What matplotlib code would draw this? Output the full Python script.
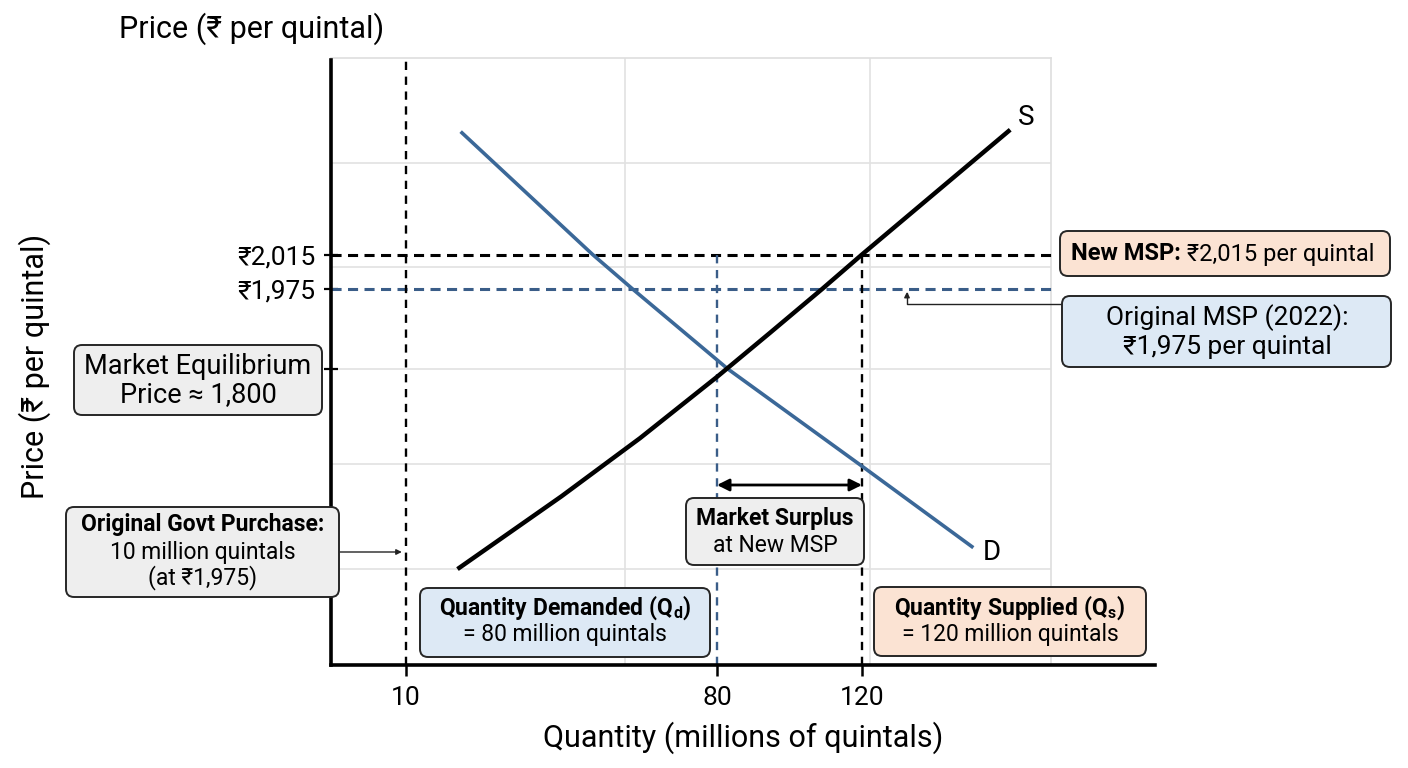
import numpy as np
import matplotlib
matplotlib.use("Agg")
import matplotlib.pyplot as plt
from matplotlib.patches import FancyBboxPatch

plt.rcParams['font.family'] = ['Roboto', 'DejaVu Sans']
plt.rcParams['mathtext.fontset'] = 'custom'
plt.rcParams['mathtext.rm'] = 'Roboto'
plt.rcParams['mathtext.it'] = 'Roboto:italic'
plt.rcParams['mathtext.bf'] = 'Roboto:bold'

# key values (millions of quintals, rupees per quintal)
Q_GOVT = 10
Q_DEMANDED = 80
Q_SUPPLIED = 120
P_EQ = 1800
P_OLD = 1975
P_NEW = 2015

# demand and supply curves
Q_DEM = [22.6, 52, 61, 83, 120, 150]
P_DEM = [2162, 2015, 1975, 1800, 1603, 1440]
Q_SUP = [22, 45, 62.7, 80, 94.6, 109, 120, 160]
P_SUP = [1397, 1542, 1660, 1784, 1879, 1975, 2015, 2164]

X_TICKS = [Q_GOVT, Q_DEMANDED, Q_SUPPLIED]
X_LABELS = ['10', '80', '120']
Y_TICKS = [P_EQ, P_OLD, P_NEW]
Y_LABELS = ['', '₹1,975', '₹2,015']

# the sketch is not drawn to a linear scale, so use piecewise axes
Q_AXIS = [0, 10, 80, 120, 200]
Q_POS = [0, 75, 386, 531, 824]
P_AXIS = [1200, 1800, 1975, 2015, 2250]
P_POS = [0, 296, 376, 410.5, 605]

BLUE = '#3b6898'
BLUE_DASH = '#3a5d88'
PEACH = '#fbe3d3'
LIGHTBLUE = '#dde9f5'
GREY = '#eeeeee'

W, H, DPI = 1408, 768, 100


def pw(v, xs, ys):
    v = np.asarray(v, dtype=float)
    s0 = (ys[1] - ys[0]) / (xs[1] - xs[0])
    s1 = (ys[-1] - ys[-2]) / (xs[-1] - xs[-2])
    mid = np.interp(v, xs, ys)
    return np.where(v < xs[0], ys[0] + (v - xs[0]) * s0,
                    np.where(v > xs[-1], ys[-1] + (v - xs[-1]) * s1, mid))


def fx(x):
    return x / W


def fy(y):
    return 1 - y / H


fig = plt.figure(figsize=(W / DPI, H / DPI), dpi=DPI)

# light grid frame behind the plot
bg = fig.add_axes([fx(331), fy(665), 720 / W, 607 / H], zorder=0)
bg.set_xlim(0, 1)
bg.set_ylim(0, 1)
bg.set_xticks([0.408, 0.749])
bg.set_yticks([0.158, 0.331, 0.488, 0.656, 0.827])
bg.tick_params(length=0, labelbottom=False, labelleft=False)
bg.grid(True, color='#e2e2e2', lw=1.2)
for side in ['left', 'bottom']:
    bg.spines[side].set_visible(False)
for side in ['top', 'right']:
    bg.spines[side].set_color('#dedede')
    bg.spines[side].set_linewidth(1.2)

ax = fig.add_axes([fx(331), fy(665), (1155 - 331) / W, (665 - 60) / H], zorder=1)
ax.patch.set_alpha(0)
ax.set_xscale('function', functions=(lambda v: pw(v, Q_AXIS, Q_POS),
                                     lambda v: pw(v, Q_POS, Q_AXIS)))
ax.set_yscale('function', functions=(lambda v: pw(v, P_AXIS, P_POS),
                                     lambda v: pw(v, P_POS, P_AXIS)))

# price floors
ax.axhline(P_NEW, xmax=720 / 824, color='black', lw=2.2, ls=(0, (3.3, 2.1)), zorder=2)
ax.axhline(P_OLD, xmax=720 / 824, color=BLUE_DASH, lw=2.2, ls=(0, (3.3, 2.1)), zorder=2)
ax.axvline(Q_GOVT, color='black', lw=1.7, ls=(0, (3.5, 2.8)), zorder=2)
ax.plot([Q_DEMANDED, Q_DEMANDED], [P_AXIS[0], P_NEW], color=BLUE_DASH, lw=1.7,
        ls=(0, (3.5, 2.8)), zorder=2)
ax.plot([Q_SUPPLIED, Q_SUPPLIED], [P_AXIS[0], P_NEW], color='black', lw=1.7,
        ls=(0, (3.5, 2.8)), zorder=2)

# curves
ax.plot(Q_DEM, P_DEM, color=BLUE, lw=2.6, zorder=3)
ax.plot(Q_SUP, P_SUP, color='black', lw=3.2, zorder=4)
ax.annotate('S', xy=(Q_SUP[-1], P_SUP[-1]), xytext=(13, 10), textcoords='offset points',
            fontsize=20, ha='center', va='center')
ax.annotate('D', xy=(Q_DEM[-1], P_DEM[-1]), xytext=(14, -4), textcoords='offset points',
            fontsize=20, ha='center', va='center')

ax.set_xlim(Q_AXIS[0], Q_AXIS[-1])
ax.set_ylim(P_AXIS[0], P_AXIS[-1])

ax.set_xticks(X_TICKS)
ax.set_xticklabels(X_LABELS)
ax.set_yticks(Y_TICKS)
ax.set_yticklabels(Y_LABELS)
ax.minorticks_off()
ax.tick_params(axis='x', direction='out', length=8, width=1.8, pad=7, labelsize=19)
ax.tick_params(axis='y', direction='inout', length=10, width=1.6, pad=6, labelsize=19)
for side in ['top', 'right']:
    ax.spines[side].set_visible(False)
for side in ['left', 'bottom']:
    ax.spines[side].set_linewidth(2.6)
    ax.spines[side].set_color('black')

ax.set_xlabel('Quantity (millions of quintals)', fontsize=22)
ax.xaxis.set_label_coords(0.5, -0.121)
ax.xaxis.label.set_va('center')
ax.set_ylabel('Price (₹ per quintal)', fontsize=22)
ax.yaxis.set_label_coords(-0.359, 0.494)
ax.yaxis.label.set_va('center')

fig.text(fx(252), fy(29), 'Price (₹ per quintal)', fontsize=22, ha='center', va='center')


def box(x0, y0, x1, y1, fc):
    p = FancyBboxPatch((x0 / DPI, (H - y1) / DPI), (x1 - x0) / DPI, (y1 - y0) / DPI,
                       boxstyle='round,pad=0,rounding_size=0.08', fc=fc, ec='#262626',
                       lw=1.4, transform=fig.dpi_scale_trans, zorder=5)
    fig.add_artist(p)


def label(x, y, s, size, weight='normal', ha='center'):
    fig.text(fx(x), fy(y), s, fontsize=size, fontweight=weight, ha=ha, va='center',
             zorder=6)


# arrows
ax.annotate('', xy=(Q_DEMANDED, fy(485)), xytext=(Q_SUPPLIED, fy(485)),
            xycoords=('data', 'figure fraction'), textcoords=('data', 'figure fraction'),
            arrowprops=dict(arrowstyle='<|-|>', color='black', lw=2, mutation_scale=18,
                            shrinkA=0, shrinkB=0), annotation_clip=False)
ax.annotate('', xy=(fx(907), P_OLD), xycoords=('figure fraction', 'data'),
            xytext=(fx(1062), fy(304)), textcoords='figure fraction',
            arrowprops=dict(arrowstyle='-|>', color='#222222', lw=1, mutation_scale=8,
                            connectionstyle='angle,angleA=0,angleB=90,rad=0',
                            shrinkA=0, shrinkB=2), annotation_clip=False)
ax.annotate('', xy=(Q_GOVT, fy(552)), xycoords=('data', 'figure fraction'),
            xytext=(fx(340), fy(552)), textcoords='figure fraction',
            arrowprops=dict(arrowstyle='-|>', color='#222222', lw=1, mutation_scale=8,
                            shrinkA=0, shrinkB=3), annotation_clip=False)

# New MSP
box(1060, 231, 1390, 276, PEACH)
label(1181, 254, 'New MSP:', 17, 'bold', ha='right')
label(1181, 254, ' ₹2,015 per quintal', 17, ha='left')

# Original MSP
box(1062, 296, 1391, 367, LIGHTBLUE)
label(1227, 318, 'Original MSP (2022):', 19)
label(1227, 347, '₹1,975 per quintal', 19)

# Equilibrium
box(74, 345, 322, 415, GREY)
label(198, 367, 'Market Equilibrium', 19.5)
label(198, 395, 'Price ≈ 1,800', 19.5)

# Govt purchase
box(66, 507, 339, 597, GREY)
label(203, 525, 'Original Govt Purchase:', 16.5, 'bold')
label(203, 552, '10 million quintals', 16.5)
label(203, 578, '(at ₹1,975)', 16.5)

# Quantity demanded
box(420, 588, 710, 657, LIGHTBLUE)
label(565, 608, r'$\mathbf{Quantity\ Demanded\ (Q_d)}$', 16.5)
label(565, 635, '= 80 million quintals', 16.5)

# Quantity supplied
box(874, 587, 1146, 656, PEACH)
label(1010, 608, r'$\mathbf{Quantity\ Supplied\ (Q_s)}$', 16.5)
label(1010, 635, '= 120 million quintals', 16.5)

# Surplus
box(686, 498, 864, 565, GREY)
label(775, 518, 'Market Surplus', 16.5, 'bold')
label(775, 546, 'at New MSP', 16.5)

fig.savefig('out.png', dpi=DPI)
